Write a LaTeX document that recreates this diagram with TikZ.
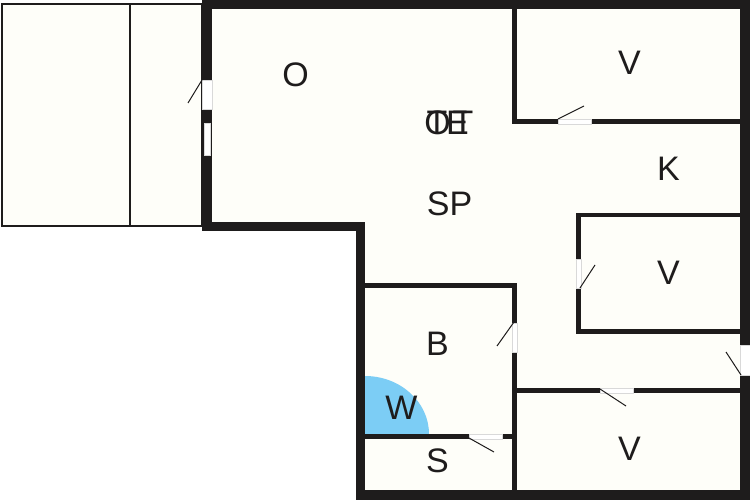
\documentclass[tikz,border=0pt]{standalone}
\usepackage{fontspec}
\setmainfont{Liberation Sans}
\definecolor{wallc}{HTML}{1E1C1C}
\definecolor{roomc}{HTML}{FEFEF9}
\definecolor{wetc}{HTML}{7CCDF5}
\tikzset{
 wall/.style={fill=wallc,draw=none},
 gapw/.style={fill=white,draw=black!15,line width=.5pt},
 leaf/.style={draw=wallc,line width=1pt},
 thin wall/.style={draw=wallc,line width=2.5pt},
 lab/.style={font=\fontsize{34}{34}\selectfont,text=wallc,inner sep=0pt,anchor=center}
}
\begin{document}
\begin{tikzpicture}[x=1pt,y=-1pt]
\useasboundingbox (0,0) rectangle (750,500);
\fill[white] (0,0) rectangle (750,500);
% rooms
\fill[roomc] (2,4) rectangle (202,226);
\fill[roomc] (202,0) -- (750,0) -- (750,500) -- (356,500) -- (356,231) -- (202,231) -- cycle;
% terrace
\draw[thin wall] (2,4) rectangle (202,226);
\draw[thin wall] (130,4) -- (130,226);
% outer walls
\fill[wall] (202,0) rectangle (750,9);
\fill[wall] (202,0) rectangle (212,231);
\fill[wall] (202,222) rectangle (365,231);
\fill[wall] (356,222) rectangle (365,500);
\fill[wall] (356,490) rectangle (750,500);
\fill[wall] (740,0) rectangle (750,500);
% wet zone
\fill[wetc] (365,434) -- (365,376) .. controls (400.3,376) and (429,402) .. (429,434) -- cycle;
% inner walls
\fill[wall] (512,9) rectangle (517,124);
\fill[wall] (512,119) rectangle (740,124);
\fill[wall] (576,213) rectangle (740,217);
\fill[wall] (576,213) rectangle (581,334);
\fill[wall] (576,329) rectangle (740,334);
\fill[wall] (513,388) rectangle (740,393);
\fill[wall] (365,283) rectangle (517,288);
\fill[wall] (512,283) rectangle (517,490);
\fill[wall] (365,434) rectangle (513,439);
% openings
\fill[gapw] (558,119) rectangle (591,124);
\fill[gapw] (576,259) rectangle (581,288);
\fill[gapw] (740,345) rectangle (750,375);
\fill[gapw] (600,388) rectangle (633,393);
\fill[gapw] (512,323) rectangle (517,352);
\fill[gapw] (469,434) rectangle (502,439);
\fill[gapw] (202,80) rectangle (212,109);
\fill[gapw] (204,123) rectangle (210,155);
% leaves
\draw[leaf] (558,119) -- (584,106);
\draw[leaf] (580,288) -- (595,265);
\draw[leaf] (741,375) -- (726,352);
\draw[leaf] (600,389) -- (626,406);
\draw[leaf] (514,322) -- (497,346);
\draw[leaf] (469,438) -- (494,452);
\draw[leaf] (202,80) -- (188,103);
% labels
\node[lab] (o) at (295.5,75) {O};
\node[lab] (v1) at (629.5,63) {V};
\node[lab] (k) at (668.5,169) {K};
\node[lab] (sp) at (449.5,204) {SP};
\node[lab] (v2) at (668.5,273) {V};
\node[lab] (b) at (437.5,344) {B};
\node[lab] (w) at (401.5,408) {W};
\node[lab] (s) at (437.5,461) {S};
\node[lab] (v3) at (629.5,449) {V};
\node[lab] (t1) at (437,122.5) {T};
\node[lab] (o1) at (437.5,122.5) {O};
\node[lab] (e1) at (457.5,122.5) {E};
\node[lab] (t2) at (463,122.5) {T};
\end{tikzpicture}
\end{document}
